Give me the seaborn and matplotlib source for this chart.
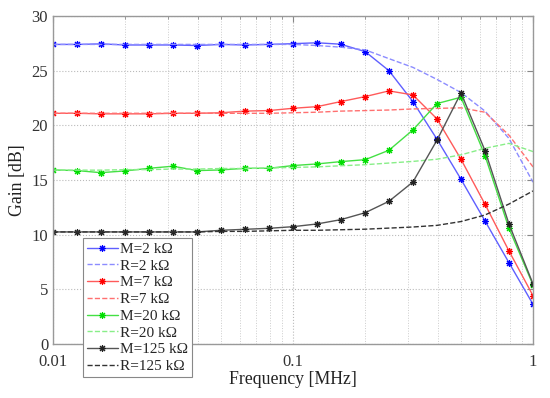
import numpy as np
import pandas as pd
import seaborn as sns
import matplotlib.pyplot as plt
from matplotlib.ticker import FixedLocator, NullFormatter

# frequency points [MHz], 10 per decade
freq = [0.01, 0.0126, 0.0158, 0.02, 0.0251, 0.0316, 0.0398, 0.0501, 0.0631, 0.0794,
        0.1, 0.126, 0.158, 0.2, 0.251, 0.316, 0.398, 0.501, 0.631, 0.794, 1.0]

# measured gains [dB]
m_2k = [27.4, 27.4, 27.45, 27.35, 27.35, 27.35, 27.3, 27.4, 27.35, 27.4,
        27.47, 27.55, 27.42, 26.74, 25.0, 22.17, 18.73, 15.07, 11.25, 7.44, 3.63]
m_7k = [21.1, 21.1, 21.05, 21.05, 21.05, 21.1, 21.1, 21.15, 21.3, 21.35,
        21.56, 21.71, 22.17, 22.63, 23.15, 22.78, 20.59, 16.9, 12.78, 8.51, 4.42]
m_20k = [15.92, 15.86, 15.67, 15.83, 16.07, 16.26, 15.86, 15.92, 16.07, 16.07,
         16.32, 16.47, 16.68, 16.86, 17.72, 19.58, 21.99, 22.57, 17.23, 10.58, 5.4]
m_125k = [10.25, 10.25, 10.25, 10.25, 10.25, 10.25, 10.25, 10.4, 10.49, 10.58,
          10.73, 10.98, 11.37, 12.01, 13.05, 14.82, 18.64, 22.96, 17.69, 10.98, 5.5]

# reference gains [dB]
r_2k = [27.4, 27.4, 27.4, 27.4, 27.4, 27.4, 27.4, 27.4, 27.4, 27.4,
        27.4, 27.3, 27.15, 26.9, 26.1, 25.3, 24.2, 23.0, 21.3, 18.8, 14.8]
r_7k = [21.1, 21.1, 21.1, 21.1, 21.1, 21.1, 21.1, 21.1, 21.1, 21.1,
        21.15, 21.2, 21.3, 21.35, 21.4, 21.5, 21.55, 21.6, 21.2, 19.1, 16.2]
r_20k = [15.9, 15.9, 15.9, 15.95, 15.95, 16.0, 16.0, 16.05, 16.05, 16.1,
         16.15, 16.2, 16.3, 16.4, 16.55, 16.7, 16.9, 17.3, 17.9, 18.35, 17.6]
r_125k = [10.25, 10.25, 10.25, 10.25, 10.25, 10.25, 10.25, 10.3, 10.3, 10.35,
          10.4, 10.4, 10.45, 10.5, 10.6, 10.7, 10.85, 11.2, 11.8, 12.8, 14.0]

series = [
    ("M=2 k\u03a9", m_2k, "#5f5fff", "#0000ff", "-"),
    ("R=2 k\u03a9", r_2k, "#8c8cff", None, "--"),
    ("M=7 k\u03a9", m_7k, "#ff5a5a", "#ff0000", "-"),
    ("R=7 k\u03a9", r_7k, "#ff7070", None, "--"),
    ("M=20 k\u03a9", m_20k, "#44e044", "#00dd00", "-"),
    ("R=20 k\u03a9", r_20k, "#88ee88", None, "--"),
    ("M=125 k\u03a9", m_125k, "#555555", "#222222", "-"),
    ("R=125 k\u03a9", r_125k, "#333333", None, "--"),
]

sns.set_style("white")
plt.rcParams["font.family"] = ["Liberation Serif", "DejaVu Serif"]

fig = plt.figure(figsize=(5.5, 3.98), dpi=100)
ax = fig.add_axes([0.0964, 0.1357, 0.8727, 0.8241])

for label, vals, col, mcol, ls in series:
    kw = dict(x=freq, y=vals, ax=ax, color=col, linestyle=ls, linewidth=1.0, label=label)
    if mcol is not None:
        kw.update(marker=(8, 2, 0), markersize=5, markeredgecolor=mcol,
                  markerfacecolor=mcol, markeredgewidth=0.8)
    else:
        kw.update(dashes=(5, 4))
    sns.lineplot(**kw)

ax.set_xscale("log")
ax.set_xlim(0.01, 1)
ax.set_ylim(0, 30)
ax.xaxis.set_major_locator(FixedLocator([0.01, 0.1, 1]))
ax.set_xticklabels(["0.01", "0.1", "1"])
minors = [m * d for d in (0.01, 0.1) for m in range(2, 10)]
ax.xaxis.set_minor_locator(FixedLocator(minors))
ax.xaxis.set_minor_formatter(NullFormatter())
ax.set_yticks([0, 5, 10, 15, 20, 25, 30])

ax.grid(True, which="major", linestyle=":", color="#bbbbbb", linewidth=0.8)
ax.grid(True, which="minor", axis="x", linestyle=":", color="#cccccc", linewidth=0.7)
ax.tick_params(which="both", direction="in", top=True, right=True, colors="#888888",
               labelcolor="#333333", labelsize=12)
ax.tick_params(axis="x", which="major", pad=7)
ax.tick_params(which="major", length=4)
ax.tick_params(which="minor", length=2)
for s in ax.spines.values():
    s.set_color("#999999")
    s.set_linewidth(1.0)

ax.set_xlabel("Frequency [MHz]", fontsize=12.8, color="#222222", labelpad=1)
ax.set_ylabel("Gain [dB]", fontsize=12.8, color="#222222", labelpad=4)

leg = ax.legend(loc="upper left", bbox_to_anchor=(0.063, 0.322), fontsize=11,
                frameon=True, fancybox=False, edgecolor="#888888", framealpha=1,
                labelspacing=0.2, handlelength=2.0, handletextpad=0.15,
                borderpad=0.25, borderaxespad=0)
leg.get_frame().set_linewidth(0.8)
leg.set_zorder(10)

fig.savefig("out.png", dpi=100)
